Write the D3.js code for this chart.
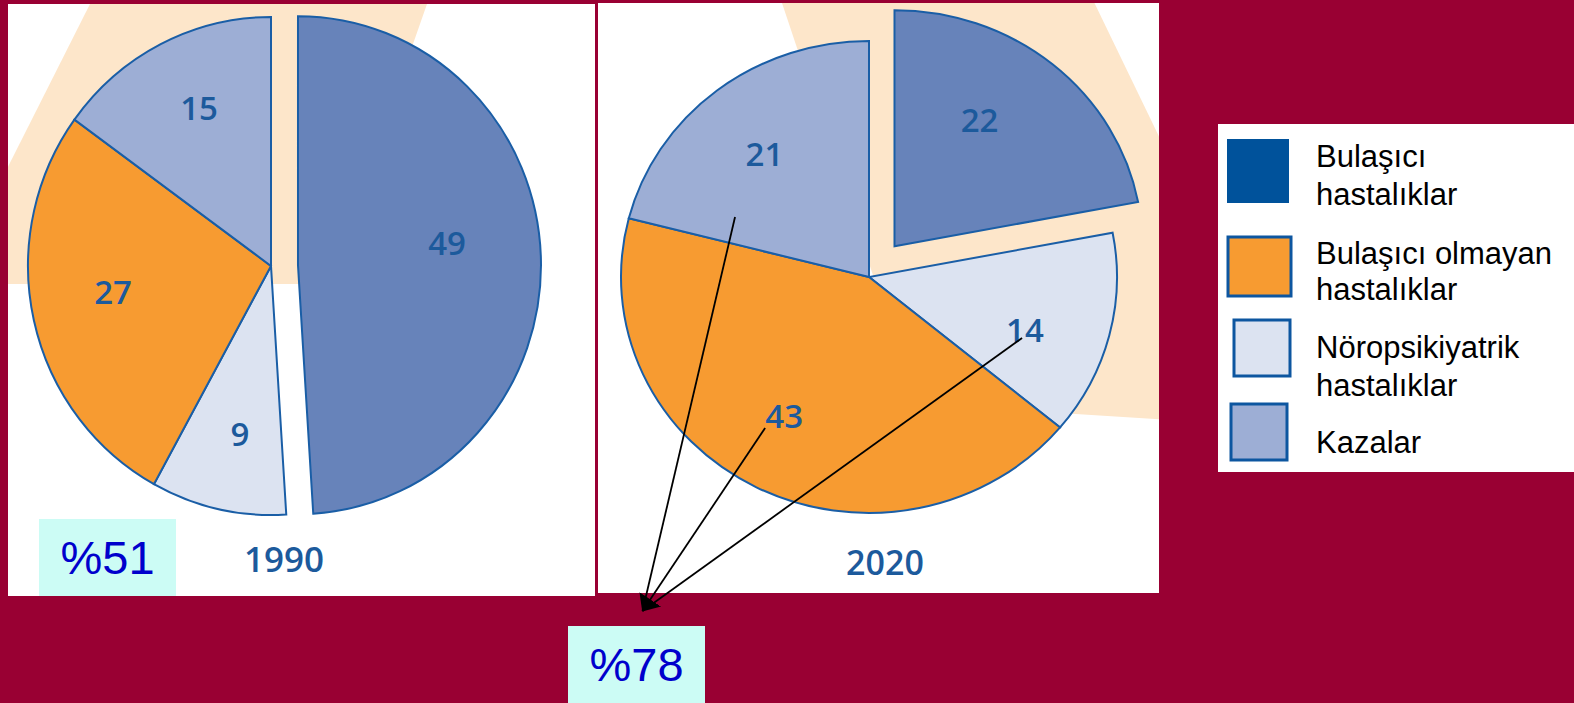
<!DOCTYPE html>
<html>
<head>
<meta charset="utf-8">
<script src="https://cdn.jsdelivr.net/npm/d3@7"></script>
<style>
  html, body { margin: 0; padding: 0; background: #990033; overflow: hidden; }
  svg { display: block; }
</style>
</head>
<body>
<svg id="chart" width="1574" height="703"></svg>
<script>
// Categories (index order is used by every array below)
const categories = ["Bulaşıcı hastalıklar", "Bulaşıcı olmayan hastalıklar", "Nöropsikiyatrik hastalıklar", "Kazalar"];
const legendLines = [["Bulaşıcı", "hastalıklar"], ["Bulaşıcı olmayan", "hastalıklar"], ["Nöropsikiyatrik", "hastalıklar"], ["Kazalar"]];
const years = ["1990", "2020"];
const values1990 = [49, 27, 9, 15];
const values2020 = [22, 43, 14, 21];
// clockwise order of the slices, starting at 12 o'clock
const sliceOrder = [0, 2, 1, 3];

// styling
const sliceFill = ["#6783ba", "#f79b31", "#dce3f1", "#9daed5"];
const legendFill = ["#00529b", "#f79b31", "#dce3f1", "#9daed5"];
const outline = "#1a5ea6";
const labelColor = "#1c5a9c";
const beamColor = "#fde6ca";

// geometry of the two pies
const pies = [
  {
    year: years[0], values: values1990,
    cx: 271, cy: 266, rx: 243, ry: 249, explode: 27,
    panel: { x: 8, y: 4, w: 587, h: 592 },
    beam: [[90, 4], [427, 4], [329, 284], [-51, 284]],
    labelNudge: [-6.4, 3.5, -1.9, 2], labelR: [0.62, 0.658, 0.687, 0.70],
    yearX: 284, yearY: 572, yearSize: 35,
    shareBox: { x: 39, y: 519, w: 137, h: 77 }
  },
  {
    year: years[1], values: values2020,
    cx: 869, cy: 277, rx: 248, ry: 236, explode: 40,
    panel: { x: 598, y: 3, w: 561, h: 590 },
    beam: [[781, 0], [1093, 0], [1300, 428], [916, 404]],
    labelNudge: [-6.9, 3.2, 5.3, -1.2], labelR: [0.635, 0.68, 0.668, 0.67],
    yearX: 885, yearY: 575, yearSize: 34,
    shareBox: { x: 568, y: 626, w: 137, h: 77 },
    // pointers from three slices towards the share box (angle in degrees, radius fraction)
    pointers: [ { cat: 3, angle: 295.2, r: 0.597 }, { cat: 2, angle: 112.7, r: 0.669 }, { cat: 1, angle: 213.2, r: 0.765 } ]
  }
];

const svg = d3.select("#chart");
const defs = svg.append("defs");

defs.append("marker")
  .attr("id", "head")
  .attr("markerUnits", "userSpaceOnUse")
  .attr("viewBox", "0 -14 16 28")
  .attr("refX", 14).attr("refY", 0)
  .attr("markerWidth", 16).attr("markerHeight", 28)
  .attr("orient", "auto")
  .append("path")
  .attr("d", "M0,-13L14.5,0L0,13Z")
  .attr("fill", "#000");

const rad = d => d * Math.PI / 180;
const pieGen = d3.pie().sort(null).value(d => d.v);

pies.forEach((p, pi) => {
  // white panel
  svg.append("rect")
    .attr("x", p.panel.x).attr("y", p.panel.y)
    .attr("width", p.panel.w).attr("height", p.panel.h)
    .attr("fill", "#fff");

  // light beam behind the pie, clipped to the panel
  const clipId = "clip" + pi;
  defs.append("clipPath").attr("id", clipId)
    .append("rect")
    .attr("x", p.panel.x).attr("y", p.panel.y)
    .attr("width", p.panel.w).attr("height", p.panel.h);
  svg.append("polygon")
    .attr("points", p.beam.map(d => d.join(",")).join(" "))
    .attr("fill", beamColor)
    .attr("clip-path", `url(#${clipId})`);

  const ordered = sliceOrder.map(i => ({ cat: i, v: p.values[i] }));
  const arcs = pieGen(ordered);
  const arc = d3.arc().innerRadius(0).outerRadius(p.ry);
  const sx = p.rx / p.ry;

  arcs.forEach(a => {
    const mid = (a.startAngle + a.endAngle) / 2;
    const d = a.data.cat === 0 ? p.explode : 0;
    a.ox = d * Math.sin(mid);
    a.oy = -d * Math.cos(mid);
    a.mid = mid;
  });

  const g = svg.append("g");
  g.selectAll("path.slice")
    .data(arcs)
    .join("path")
    .attr("class", "slice")
    .attr("transform", a => `translate(${p.cx + a.ox},${p.cy + a.oy}) scale(${sx},1)`)
    .attr("d", arc)
    .attr("fill", a => sliceFill[a.data.cat])
    .attr("stroke", outline)
    .attr("stroke-width", 2)
    .attr("vector-effect", "non-scaling-stroke")
    .attr("stroke-linejoin", "miter");

  // value labels
  g.selectAll("text.val")
    .data(arcs)
    .join("text")
    .attr("class", "val")
    .attr("x", a => {
      const t = a.mid + rad(p.labelNudge[a.data.cat]);
      return p.cx + a.ox + p.labelR[a.data.cat] * p.rx * Math.sin(t);
    })
    .attr("y", a => {
      const t = a.mid + rad(p.labelNudge[a.data.cat]);
      return p.cy + a.oy - p.labelR[a.data.cat] * p.ry * Math.cos(t);
    })
    .attr("dy", "0.36em")
    .attr("text-anchor", "middle")
    .attr("font-family", "'Open Sans', 'Noto Sans', sans-serif")
    .attr("font-weight", 600)
    .attr("font-size", 33)
    .attr("fill", labelColor)
    .text(a => a.data.v);

  // year
  svg.append("text")
    .attr("x", p.yearX).attr("y", p.yearY)
    .attr("text-anchor", "middle")
    .attr("font-family", "'Open Sans', 'Noto Sans', sans-serif")
    .attr("font-weight", 600)
    .attr("font-size", p.yearSize)
    .attr("fill", labelColor)
    .text(p.year);

  // share of non-communicable causes (everything except category 0)
  const share = d3.sum(p.values.filter((v, i) => i !== 0));
  svg.append("rect")
    .attr("x", p.shareBox.x).attr("y", p.shareBox.y)
    .attr("width", p.shareBox.w).attr("height", p.shareBox.h)
    .attr("fill", "#ccfcf5");
  svg.append("text")
    .attr("x", p.shareBox.x + p.shareBox.w / 2)
    .attr("y", p.shareBox.y + p.shareBox.h / 2)
    .attr("dy", "0.36em")
    .attr("text-anchor", "middle")
    .attr("font-family", "'Liberation Sans', Arial, sans-serif")
    .attr("font-size", 47)
    .attr("fill", "#0000cc")
    .text("%" + share);
});

// pointers from the 2020 slices to its share box
const p2 = pies[1];
const tip = [p2.shareBox.x + p2.shareBox.w / 2 + 6, p2.shareBox.y - 15];
svg.append("g").selectAll("line")
  .data(p2.pointers)
  .join("line")
  .attr("x1", d => p2.cx + d.r * p2.rx * Math.sin(rad(d.angle)))
  .attr("y1", d => p2.cy - d.r * p2.ry * Math.cos(rad(d.angle)))
  .attr("x2", tip[0]).attr("y2", tip[1])
  .attr("stroke", "#000")
  .attr("stroke-width", 1.8)
  .attr("marker-end", (d, i) => i === p2.pointers.length - 1 ? "url(#head)" : null);

// legend
const legend = svg.append("g");
legend.append("rect")
  .attr("x", 1218).attr("y", 124)
  .attr("width", 356).attr("height", 348)
  .attr("fill", "#fff");

const swatches = [
  { x: 1227, y: 139, w: 62, h: 64, baselines: [167, 205] },
  { x: 1228, y: 237, w: 63, h: 59, baselines: [264, 300] },
  { x: 1234, y: 320, w: 56, h: 56, baselines: [358, 396] },
  { x: 1231, y: 404, w: 56, h: 56, baselines: [453] }
];
categories.forEach((c, i) => {
  const s = swatches[i];
  legend.append("rect")
    .attr("x", s.x).attr("y", s.y).attr("width", s.w).attr("height", s.h)
    .attr("fill", legendFill[i])
    .attr("stroke", i === 0 ? "none" : "#0d56a0")
    .attr("stroke-width", 3);
  const t = legend.append("text")
    .attr("font-family", "'Liberation Sans', Arial, sans-serif")
    .attr("font-size", 31)
    .attr("fill", "#000");
  legendLines[i].forEach((line, j) => {
    t.append("tspan").attr("x", 1316).attr("y", s.baselines[j]).text(line);
  });
});
</script>
</body>
</html>
